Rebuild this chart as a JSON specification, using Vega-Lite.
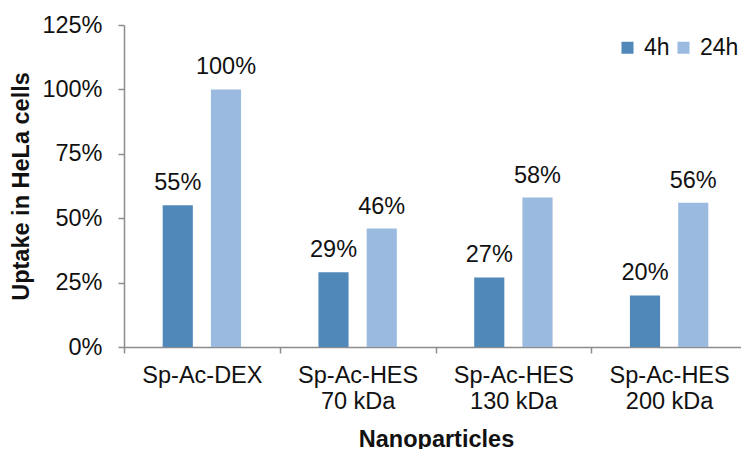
{
  "$schema": "https://vega.github.io/schema/vega-lite/v6.json",
  "autosize": "none",
  "width": 617,
  "height": 322,
  "padding": {"left": 124, "top": 25, "right": 0, "bottom": 102},
  "background": "white",
  "config": {
    "font": "Liberation Sans",
    "view": {"stroke": null},
    "axis": {
      "domainColor": "#8c8c8c",
      "tickColor": "#8c8c8c",
      "domainWidth": 1.5,
      "tickWidth": 1.5,
      "tickSize": 6,
      "labelFont": "Liberation Sans",
      "labelFontSize": 23.5,
      "labelColor": "#111111",
      "titleFont": "Liberation Sans",
      "titleFontSize": 23.5,
      "titleFontWeight": "bold",
      "titleColor": "#111111",
      "grid": false
    }
  },
  "data": {
    "values": [
      {"particle": "Sp-Ac-DEX", "time": "4h", "uptake": 0.55},
      {"particle": "Sp-Ac-DEX", "time": "24h", "uptake": 1.0},
      {"particle": "Sp-Ac-HES 70 kDa", "time": "4h", "uptake": 0.29},
      {"particle": "Sp-Ac-HES 70 kDa", "time": "24h", "uptake": 0.46},
      {"particle": "Sp-Ac-HES 130 kDa", "time": "4h", "uptake": 0.27},
      {"particle": "Sp-Ac-HES 130 kDa", "time": "24h", "uptake": 0.58},
      {"particle": "Sp-Ac-HES 200 kDa", "time": "4h", "uptake": 0.20},
      {"particle": "Sp-Ac-HES 200 kDa", "time": "24h", "uptake": 0.56}
    ]
  },
  "encoding": {
    "x": {
      "field": "particle",
      "type": "nominal",
      "sort": null,
      "scale": {"range": [0, 623], "paddingInner": 0, "paddingOuter": 0},
      "axis": {
        "title": "Nanoparticles",
        "labelAngle": 0,
        "tickBand": "extent",
        "labelPadding": 10,
        "labelLineHeight": 26,
        "labelBaseline": "top",
        "titleX": 312,
        "titleY": 99,
        "titleBaseline": "alphabetic",
        "labelExpr": "indexof(datum.label, ' ') > 0 ? [slice(datum.label, 0, indexof(datum.label, ' ')), slice(datum.label, indexof(datum.label, ' ') + 1)] : datum.label"
      }
    },
    "xOffset": {
      "field": "time",
      "type": "nominal",
      "sort": ["4h", "24h"],
      "scale": {"paddingInner": 0.375, "paddingOuter": 0.802}
    },
    "y": {
      "field": "uptake",
      "type": "quantitative",
      "scale": {"domain": [0, 1.25], "nice": false},
      "axis": {
        "title": "Uptake in HeLa cells",
        "values": [0, 0.25, 0.5, 0.75, 1.0, 1.25],
        "format": ".0%",
        "labelPadding": 16,
        "titleAngle": -90,
        "titleX": -96,
        "titleY": 161,
        "titleAlign": "center",
        "titleBaseline": "alphabetic"
      }
    }
  },
  "layer": [
    {
      "mark": {"type": "bar"},
      "encoding": {
        "color": {
          "field": "time",
          "type": "nominal",
          "sort": ["4h", "24h"],
          "scale": {"domain": ["4h", "24h"], "range": ["#5088BA", "#9BBADF"]},
          "legend": {
            "title": null,
            "orient": "none",
            "direction": "horizontal",
            "legendX": 492,
            "legendY": 11,
            "padding": 0,
            "symbolType": "square",
            "symbolSize": 144,
            "symbolStrokeWidth": 0,
            "symbolOpacity": 1,
            "labelFont": "Liberation Sans",
            "labelFontSize": 23,
            "labelColor": "#111111",
            "labelOffset": 5,
            "columnPadding": 2
          }
        }
      }
    },
    {
      "mark": {"type": "text", "align": "center", "baseline": "alphabetic", "dy": -15, "fontSize": 23.5, "color": "#111111", "font": "Liberation Sans"},
      "encoding": {
        "text": {"field": "uptake", "type": "quantitative", "format": ".0%"}
      }
    }
  ]
}
